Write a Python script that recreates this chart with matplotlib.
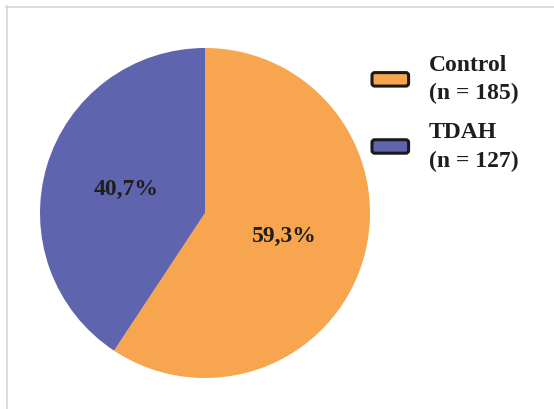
import matplotlib
matplotlib.use("Agg")
import matplotlib.pyplot as plt
from matplotlib.patches import FancyBboxPatch, Patch
from matplotlib.legend_handler import HandlerPatch
from matplotlib.lines import Line2D

categories = ["Control", "TDAH"]
counts = [185, 127]
colors = ["#F8A54F", "#5E64AE"]
legend_labels = [f"{c}\n(n = {n})" for c, n in zip(categories, counts)]

W, H = 554, 409
fig = plt.figure(figsize=(W / 100, H / 100), dpi=100)
fig.patch.set_facecolor("white")

# light grey frame lines (top and left)
fig.add_artist(Line2D([6 / W, 1.0], [1 - 6.5 / H, 1 - 6.5 / H], transform=fig.transFigure,
                      color="#d6d6d6", lw=1.2))
fig.add_artist(Line2D([6.5 / W, 6.5 / W], [0, 1 - 6 / H], transform=fig.transFigure,
                      color="#d6d6d6", lw=1.2))

cx, cy, r = 205, 213, 165
ax = fig.add_axes([(cx - r) / W, (H - cy - r) / H, 2 * r / W, 2 * r / H])

def fmt(p):
    return f"{p:.1f}".replace(".", ",") + "%"

wedges, texts, autotexts = ax.pie(counts, colors=colors, startangle=90, counterclock=False,
                                  autopct=fmt, pctdistance=0.5,
                                  textprops=dict(family="Liberation Serif", fontweight="bold",
                                                 fontsize=17, color="#1e1e1e"))
ax.set_xlim(-1, 1)
ax.set_ylim(-1, 1)
ax.set_aspect("equal")


class RoundHandler(HandlerPatch):
    def create_artists(self, legend, orig_handle, xdescent, ydescent, width, height, fontsize, trans):
        p = FancyBboxPatch((-xdescent, -ydescent), width, height,
                           boxstyle="round,pad=0,rounding_size=2",
                           facecolor=orig_handle.get_facecolor(), edgecolor="#1a1a1a", lw=2.2,
                           transform=trans)
        return [p]


handles = [Patch(facecolor=c) for c in colors]
leg = fig.legend(handles, legend_labels, loc="upper left",
                 bbox_to_anchor=(372 / W, 1 - 55 / H), frameon=False,
                 prop=dict(family="Liberation Serif", weight="bold", size=17),
                 handlelength=1.55, handleheight=0.5, handletextpad=0.85,
                 labelspacing=0.75, borderpad=0, borderaxespad=0,
                 handler_map={Patch: RoundHandler()})
for t in leg.get_texts():
    t.set_color("#1e1e1e")
    t.set_linespacing(1.45)

fig.savefig("out.png", dpi=100, facecolor="white")
